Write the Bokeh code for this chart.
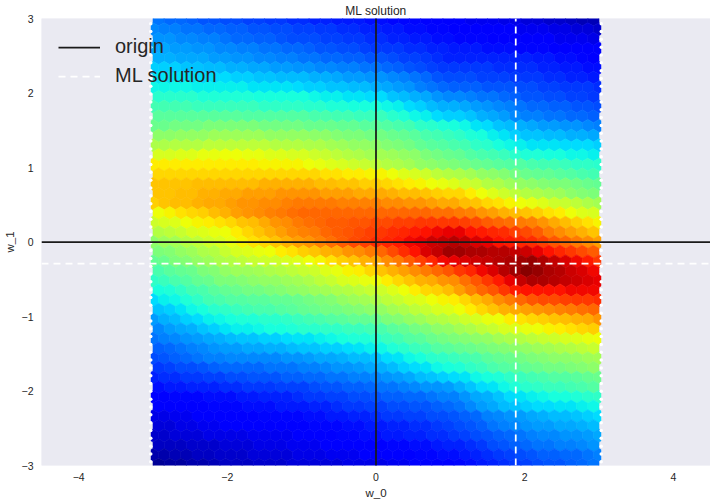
import numpy as np
from bokeh.plotting import figure
from bokeh.embed import file_html
from bokeh.resources import INLINE
from bokeh.models import LinearColorMapper, FixedTicker, Legend, LegendItem, ColumnDataSource, Title

title = "ML solution"
x_label = "w_0"
y_label = "w_1"
x_ticks = [-4, -2, 0, 2, 4]
y_ticks = [-3, -2, -1, 0, 1, 2, 3]
x_tick_labels = {-4: "\u22124", -2: "\u22122", 0: "0", 2: "2", 4: "4"}
y_tick_labels = {-3: "\u22123", -2: "\u22122", -1: "\u22121", 0: "0", 1: "1", 2: "2", 3: "3"}
origin = 0.0
ml_w0 = 1.88
ml_w1 = -0.29
x_limits = (-4.5, 4.5)
y_limits = (-3.0, 3.0)
cell_limit = 3.0

# Colour level (0-100 on the jet scale) of each hex row, top to bottom.
# These are by-eye estimates: colours were read from zoomed crops of the picture at
# seven columns, and the cells between them were filled in by hand, so they are
# approximate and not measured cell by cell.
levels = [
 [24,23,23,22,21,21,20,20,19,19,18,18,17,17,16,16,15,15,15,14,14,13,13,13,12,12,11,11,10,10,10,9,9,8,8,7,7,6,5,5],
 [26,25,25,24,24,23,23,22,22,21,21,20,20,19,19,18,18,17,17,16,16,15,15,14,14,13,13,12,12,12,11,11,11,10,10,10,9,9,8,8,7],
 [27,27,26,26,25,25,24,23,23,22,22,21,20,20,20,19,19,18,18,17,17,16,16,15,15,14,14,13,13,13,12,12,12,11,11,11,10,10,10,9],
 [29,29,28,28,27,27,26,26,25,25,24,24,23,23,22,21,21,20,20,19,18,18,18,17,17,16,16,15,15,15,14,14,14,13,13,13,12,12,12,11,11],
 [30,30,29,29,29,28,28,27,27,26,26,25,25,24,24,23,23,22,22,21,21,20,19,19,18,17,16,16,16,16,16,16,16,16,15,15,14,14,13,12],
 [33,33,33,32,32,31,31,30,30,29,29,28,28,27,27,26,26,25,25,24,24,23,22,21,20,19,18,18,18,18,18,17,17,17,17,16,16,15,15,14,14],
 [35,35,35,35,34,34,34,33,33,32,32,31,31,31,30,30,29,28,28,27,27,26,25,24,23,21,20,20,20,19,19,19,18,18,18,17,17,16,16,15],
 [37,37,37,37,36,36,36,36,36,35,35,35,35,34,33,33,32,32,31,31,30,29,28,27,25,24,23,22,22,22,21,21,21,20,20,19,19,18,18,18,17],
 [40,40,40,40,39,39,39,39,39,38,38,38,38,38,37,36,36,35,35,34,34,32,31,30,29,27,26,26,25,24,24,23,22,21,21,20,20,19,19,18],
 [43,43,43,43,42,42,42,42,42,42,41,41,41,41,40,40,39,39,38,38,38,37,36,34,33,31,30,30,29,28,27,26,25,24,23,23,22,22,21,21,20],
 [46,46,46,46,46,46,46,46,45,45,45,45,45,45,44,44,43,43,42,42,42,40,39,37,36,34,33,33,32,30,29,28,26,25,25,24,24,23,23,22],
 [48,48,49,49,49,50,50,50,50,50,49,49,49,49,48,48,48,47,47,46,46,45,44,43,41,40,39,38,37,35,34,32,31,30,29,28,28,27,27,26,25],
 [52,52,53,53,53,54,54,54,54,54,53,53,53,53,52,52,51,50,50,49,49,48,47,46,44,43,42,41,39,38,36,35,33,32,32,31,31,30,30,29],
 [56,56,57,57,57,58,58,58,58,58,58,57,57,57,56,56,55,54,53,53,52,51,50,49,47,46,45,44,43,41,40,38,37,36,35,35,35,34,34,34,33],
 [61,61,62,62,63,63,64,64,63,63,62,62,61,61,60,59,58,57,56,55,55,54,53,52,50,49,48,47,45,44,43,42,40,39,39,38,38,37,37,36],
 [66,66,66,66,66,66,66,66,66,66,65,65,65,65,64,63,62,61,60,59,58,57,56,55,53,52,51,50,49,48,47,46,45,45,44,43,43,42,41,41,40],
 [68,68,68,68,68,68,68,68,68,68,68,68,68,68,68,67,67,66,66,65,65,64,62,61,60,58,57,56,55,53,52,51,49,48,47,47,46,45,44,43],
 [70,70,70,70,71,71,71,71,71,71,72,72,72,72,72,71,71,70,70,69,69,68,67,66,65,64,63,62,60,59,57,56,54,53,52,51,50,50,49,48,47],
 [70,70,71,71,72,72,73,73,74,74,74,75,75,75,75,74,74,74,73,73,73,72,71,71,70,69,68,68,66,64,62,60,58,57,56,55,54,52,51,50],
 [69,70,71,71,72,73,73,74,75,75,76,76,77,78,78,78,78,77,77,77,77,76,76,75,75,74,73,73,71,70,68,67,65,64,63,62,60,59,58,56,55],
 [64,65,67,68,69,71,72,74,75,76,77,78,79,80,80,80,80,80,80,80,80,80,80,80,80,79,79,78,77,75,74,72,71,70,69,67,66,64,62,61],
 [60,61,62,64,65,66,67,68,70,71,73,75,76,78,79,80,81,81,82,82,83,83,84,84,85,85,85,85,84,83,81,80,79,78,77,75,73,71,69,67,65],
 [57,58,59,61,62,63,64,66,68,70,72,74,76,77,78,80,81,82,83,84,85,86,87,88,89,90,91,91,89,88,87,86,84,83,81,78,76,74,72,70],
 [52,54,55,57,58,60,61,63,65,67,68,70,72,74,75,77,79,81,83,84,86,87,88,90,91,93,94,95,94,92,91,89,88,87,86,84,82,80,78,76,74],
 [50,51,53,54,56,57,59,61,62,63,64,66,67,69,70,72,73,75,76,78,80,83,86,89,92,94,97,97,96,96,95,95,94,93,91,89,87,85,83,81],
 [47,48,50,51,53,54,56,57,58,59,60,60,61,62,64,65,67,69,70,72,73,76,78,81,84,87,90,91,92,93,94,95,96,97,98,96,94,92,90,88,85],
 [44,46,47,48,50,51,53,54,54,55,56,57,58,59,60,62,63,65,66,68,70,72,74,76,78,80,82,85,87,90,92,95,97,99,98,96,95,93,92,90],
 [41,42,44,45,47,48,50,50,51,52,53,53,54,55,56,58,59,61,62,63,64,66,68,70,72,73,75,76,79,82,85,88,91,94,96,96,95,94,93,92,91],
 [38,39,41,43,44,46,47,48,49,49,50,51,52,53,54,55,56,57,58,59,60,62,64,66,68,69,71,74,77,80,82,85,88,89,89,89,89,90,90,90],
 [34,36,37,39,41,43,44,45,45,46,46,47,47,48,49,50,51,53,54,55,56,58,59,61,62,64,65,66,68,71,73,76,78,80,82,83,83,84,85,85,86],
 [32,33,35,37,38,40,41,42,43,44,44,45,46,47,48,49,49,50,51,52,53,55,56,58,59,61,62,64,66,68,70,72,73,74,75,76,77,78,79,80],
 [28,30,31,33,34,36,37,38,39,39,40,40,41,42,43,44,45,46,47,47,48,50,51,53,54,56,57,58,60,61,63,64,66,67,68,69,70,71,72,73,75],
 [26,28,29,30,32,33,35,36,36,37,38,38,39,40,40,41,41,42,42,43,44,46,47,49,50,52,53,55,56,58,59,61,62,63,64,65,66,67,68,69],
 [24,25,26,27,28,29,30,31,32,32,33,33,34,35,35,36,37,38,39,39,40,42,43,45,46,48,49,50,51,52,53,55,56,57,58,59,60,61,62,63,64],
 [22,23,24,25,26,27,28,28,29,29,30,30,31,32,32,33,33,34,35,36,37,39,40,42,43,45,46,47,48,49,50,51,52,53,54,55,56,57,58,59],
 [20,21,22,23,24,25,25,26,26,26,26,26,27,27,28,29,29,30,31,31,32,34,35,37,38,40,41,42,43,44,46,47,48,49,50,51,52,52,53,54,55],
 [18,19,20,20,21,22,23,23,23,23,24,24,24,25,25,26,27,27,28,29,30,31,33,34,35,37,38,39,41,42,44,45,46,47,48,49,49,50,51,52],
 [16,17,17,18,18,19,19,20,20,21,21,21,22,22,23,23,24,24,25,25,26,27,28,29,31,32,33,34,35,37,38,39,41,42,43,44,45,45,46,47,48],
 [14,15,15,16,16,16,17,17,18,18,18,19,19,19,20,21,21,22,22,23,24,24,25,26,27,27,28,30,32,34,35,37,39,40,41,42,42,43,44,45],
 [12,12,13,13,13,14,14,14,15,15,16,16,16,17,18,18,19,19,20,20,21,22,22,23,23,24,25,25,27,29,30,32,34,35,36,37,38,38,39,40,41],
 [11,11,12,12,12,13,13,13,14,14,14,15,15,15,16,16,17,18,18,19,19,20,20,21,21,22,23,24,26,28,29,31,32,33,34,34,35,35,36,37],
 [9,9,10,10,11,11,12,12,12,12,13,13,13,13,14,14,15,15,16,16,17,18,18,19,19,20,20,21,22,23,25,26,27,28,29,30,31,31,32,33,34],
 [8,8,9,9,10,10,11,11,11,11,11,12,12,12,13,13,13,14,14,15,15,16,16,17,17,18,19,20,21,22,24,25,26,27,28,28,29,29,30,31],
 [7,7,8,8,8,9,9,9,9,10,10,10,10,11,11,12,12,13,13,14,14,15,15,16,16,17,17,18,19,20,21,22,23,24,25,26,26,27,27,28,29],
 [6,6,6,7,7,7,8,8,8,9,9,9,10,10,10,11,11,11,12,12,12,13,13,14,14,15,16,16,17,18,20,21,22,23,24,24,25,25,26,27],
 [4,4,5,5,6,6,7,7,7,8,8,8,8,9,9,9,10,10,10,11,11,11,12,12,13,13,14,14,15,16,17,18,19,20,21,22,22,23,23,24,25],
 [2,3,3,4,4,5,6,6,6,7,7,7,8,8,8,8,8,9,9,9,9,10,10,11,11,11,12,13,14,15,16,17,18,19,20,21,21,22,23,24],
]

def jet_palette(n=256):
    t = np.linspace(0, 1, n)
    r = np.interp(t, [0, .35, .66, .89, 1], [0, 0, 1, 1, .5])
    g = np.interp(t, [0, .125, .375, .64, .91, 1], [0, 0, 1, 1, 0, 0])
    b = np.interp(t, [0, .11, .34, .65, 1], [.5, 1, 1, 0, 0])
    return ["#%02x%02x%02x" % (int(a * 255), int(c * 255), int(d * 255)) for a, c, d in zip(r, g, b)]

mapper = LinearColorMapper(palette=jet_palette(), low=0, high=100)

hex_step = 0.15
hex_size = hex_step / np.sqrt(3)
half_cols = int(round(cell_limit / hex_step))
q, r, v = [], [], []
mid = (len(levels) - 1) // 2
for i, row in enumerate(levels):
    rr = i - mid
    offset = 0.5 if rr % 2 else 0.0
    for j, val in enumerate(row):
        q.append(int(-half_cols + j + offset - rr / 2))
        r.append(rr)
        v.append(val)
cells = ColumnDataSource(dict(q=q, r=r, v=v))

BG = "#EAEAF2"
INK = "#262626"
FONT = "Liberation Sans"

p = figure(frame_width=669, frame_height=447, x_range=x_limits, y_range=y_limits,
           output_backend="svg", toolbar_location=None,
           background_fill_color=BG, border_fill_color="white",
           min_border_left=33, min_border_right=0, min_border_top=0, min_border_bottom=30)
p.outline_line_color = None
p.grid.visible = False

t = Title(text=title, align="center", text_font=FONT, text_font_size="12px",
          text_font_style="normal", text_color=INK, standoff=2)
p.add_layout(t, "above")

p.hex_tile(q="q", r="r", size=hex_size, orientation="pointytop", source=cells,
           fill_color={"field": "v", "transform": mapper},
           line_color={"field": "v", "transform": mapper}, line_width=0.6)

# Neat outer edge of the hex field, with the small scallops of the reference
edge = cell_limit + 0.03
p.quad(left=[x_limits[0], edge], right=[-edge, x_limits[1]], bottom=y_limits[0], top=y_limits[1],
       fill_color=BG, line_color=None)
notch_y = np.arange(y_limits[0] + 0.05, y_limits[1], 0.105)
p.scatter(np.full(notch_y.size, -edge), notch_y, size=3.5, marker="circle", fill_color="white", line_color=None)
p.scatter(np.full(notch_y.size, edge), notch_y, size=3.5, marker="circle", fill_color="white", line_color=None)

ml_h = p.line(list(x_limits), [ml_w1, ml_w1], line_color="white", line_width=1.75, line_dash="7 5")
p.line([ml_w0, ml_w0], list(y_limits), line_color="white", line_width=1.75, line_dash="7 5")
org_h = p.line(list(x_limits), [origin, origin], line_color="#1a1a1a", line_width=1.75)
p.line([origin, origin], list(y_limits), line_color="#1a1a1a", line_width=1.75)

legend = Legend(items=[LegendItem(label="origin", renderers=[org_h]),
                       LegendItem(label="ML solution", renderers=[ml_h])],
                location="top_left", margin=17, padding=7, spacing=6,
                glyph_width=42, glyph_height=20, label_standoff=15,
                label_text_font=FONT, label_text_font_size="20px", label_text_color=INK,
                background_fill_alpha=0, border_line_color=None)
p.add_layout(legend, "center")

for ax, ticks, labels, lab, tick_gap in ((p.xaxis[0], x_ticks, x_tick_labels, x_label, 7),
                                         (p.yaxis[0], y_ticks, y_tick_labels, y_label, 8)):
    ax.ticker = FixedTicker(ticks=ticks)
    ax.major_label_overrides = labels
    ax.axis_line_color = None
    ax.major_tick_line_color = None
    ax.minor_tick_line_color = None
    ax.major_tick_out = 0
    ax.major_tick_in = 0
    ax.major_label_text_font = FONT
    ax.major_label_text_font_size = "10.5px"
    ax.major_label_text_color = INK
    ax.major_label_standoff = tick_gap
    ax.axis_label = lab
    ax.axis_label_text_font = FONT
    ax.axis_label_text_font_size = "11.5px"
    ax.axis_label_text_font_style = "normal"
    ax.axis_label_text_color = INK
    ax.axis_label_standoff = 3

open("out.html", "w").write(file_html(p, INLINE))
